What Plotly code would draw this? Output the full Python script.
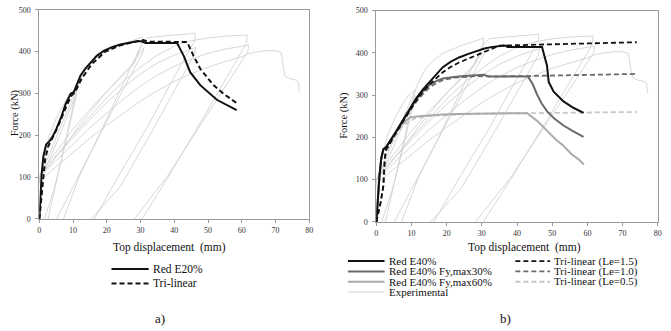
import plotly.graph_objects as go

W, H = 671, 331

# ---------------- data (a) ----------------
a_red_x = [0, 0.3, 0.7, 1.2, 1.7, 2.0, 3.0, 4.0, 5.0, 6.4, 7.8, 9.3, 10.2, 12.2, 13.7, 15.2, 17.0, 19.1, 21.5, 24.0, 26.5, 28.9, 30.3, 31.5, 40.8, 42.8, 44.7, 47.7, 52.6, 55.5, 58.5]
a_red_y = [0, 60, 110, 150, 172, 178, 186, 198, 215, 242, 275, 300, 303, 343, 360, 374, 390, 402, 411, 417, 422, 425, 425, 421, 421, 390, 351, 320, 285, 272, 260]

a_tri_x = [0, 0.8, 1.7, 2.6, 3.6, 5.0, 6.5, 8.0, 9.5, 10.5, 12.5, 15.5, 19.5, 24, 28, 30.8, 32, 43.8, 45.7, 47.7, 51.6, 55, 58.5]
a_tri_y = [0, 70, 142, 173, 188, 212, 240, 270, 295, 302, 335, 370, 400, 415, 423, 428, 424, 423, 390, 359, 320, 297, 277]

# ---------------- data (b) ----------------
b_e40_x = [0, 0.4, 0.9, 1.4, 2.0, 2.9, 4.0, 5.5, 7.5, 9.5, 11.4, 13.2, 15.1, 17.0, 18.9, 21.2, 23.5, 26.0, 28.3, 30.7, 33.0, 35.0, 36.7, 37.3, 47.1, 48.5, 49.0, 50.4, 53.2, 56.0, 58.9]
b_e40_y = [0, 60, 110, 150, 172, 178, 192, 212, 240, 268, 293, 313, 331, 350, 366, 379, 389, 397, 404, 410, 414, 416, 417, 414, 414, 370, 331, 308, 285, 270, 258]

b_f30_x = [0, 0.4, 0.9, 1.4, 2.0, 2.9, 4.0, 5.5, 7.5, 9.5, 11.4, 13.2, 15.1, 17.0, 18.9, 22, 25, 28.3, 30.5, 32, 43.1, 44.5, 45.7, 47, 48.5, 50.5, 53.2, 56, 58.9]
b_f30_y = [0, 60, 110, 150, 172, 178, 192, 212, 238, 265, 290, 308, 324, 333, 339, 343, 345, 347, 348, 344, 344, 325, 301, 280, 262, 245, 228, 214, 201]

b_f60_x = [0, 0.4, 0.9, 1.4, 2.0, 2.9, 4.0, 5.5, 7.0, 8.5, 9.5, 12, 15, 18.9, 23, 28.3, 33, 38, 42.9, 44.3, 45.7, 48.5, 51, 53.2, 55.5, 57.5, 59]
b_f60_y = [0, 60, 110, 150, 172, 178, 192, 212, 228, 240, 247, 250, 252, 254, 255, 256, 257, 257, 257, 248, 239, 216, 195, 180, 160, 148, 136]

b_t15_x = [0, 1.2, 2.0, 2.4, 2.8, 3.5, 5, 7, 9, 11, 13, 15.5, 18.9, 21, 23.5, 26, 28.3, 31, 33, 35, 74]
b_t15_y = [0, 45, 85, 150, 172, 180, 203, 230, 258, 283, 306, 328, 354, 366, 377, 386, 393, 403, 410, 417, 425]

b_t10_x = [0, 1.2, 2.0, 2.4, 2.8, 3.5, 5, 7.5, 9.5, 11.4, 13.2, 15.1, 17, 19, 22, 25, 28.3, 31, 35, 43, 74]
b_t10_y = [0, 45, 85, 150, 172, 180, 203, 238, 262, 285, 302, 318, 328, 336, 341, 343, 345, 344, 344, 345, 350]

b_t05_x = [0, 1.2, 2.0, 2.8, 4, 5.5, 7, 9, 11, 14, 19, 25, 30, 43, 74]
b_t05_y = [0, 45, 85, 160, 185, 205, 222, 236, 245, 250, 253, 255, 256, 257, 260]

# ---------------- experimental (cyclic test, shared) ----------------
exp_x = [0, 0.3, 0.8, 1.5, 3, 5, 7, 9, 11,
         10.8, 8.5, 5.5, 2.5, -1,
         -3, 0, 2, 4, 6, 8, 10, 11,
         10.8, 8, 4.5, 1.5, -2,
         -3, 0, 2, 4, 6, 8, 10, 11, 12.5, 14, 16, 19, 23.5, 27, 30.5,
         30.4, 25, 18, 12, 7.2, 3,
         -3, 0, 4, 8, 12, 16, 20, 24, 28, 31,
         30.8, 25, 18, 11, 5.1, 1,
         -3, 0, 5, 10, 15, 20, 25, 28, 30.5, 32, 35, 40, 46.2,
         46, 40, 32, 24, 16.3, 12,
         -3, 0, 5, 10, 15, 20, 25, 30, 35, 40, 44, 46.3,
         46.1, 40, 32, 24, 15.4, 11,
         -3, 0, 5, 10, 15, 20, 25, 30, 35, 40, 45, 50, 55, 61.6,
         61.4, 55, 47, 38, 30.1, 25,
         -3, 0, 5, 10, 15, 20, 25, 30, 35, 40, 45, 50, 55, 60, 62,
         61.8, 55, 47, 38, 28.2, 24,
         -3, 0, 5, 10, 15, 20, 25, 30, 35, 40, 45, 50, 55, 60, 62,
         63.4, 66, 68, 70.2, 71.7, 72.2, 72.8, 74.1, 76.1, 76.8, 77.1]
exp_y = [0, 60, 110, 150, 200, 240, 272, 298, 312,
         300, 215, 110, 0, -130,
         -60, 95, 125, 160, 200, 240, 280, 300,
         290, 190, 75, 0, -120,
         -40, 100, 135, 175, 215, 255, 292, 310, 340, 362, 381, 399, 415, 425, 435,
         420, 325, 205, 105, 0, -90,
         -80, 100, 140, 180, 225, 265, 305, 340, 375, 410,
         400, 312, 202, 92, 0, -80,
         -60, 105, 160, 215, 262, 305, 345, 370, 420, 433, 436, 439, 444,
         425, 340, 220, 110, 0, -80,
         -80, 100, 150, 195, 238, 278, 315, 347, 373, 392, 403, 410,
         395, 305, 190, 78, 0, -70,
         -70, 100, 150, 200, 245, 290, 330, 363, 392, 413, 426, 433, 437, 440,
         420, 330, 220, 98, 0, -70,
         -80, 100, 140, 180, 218, 253, 287, 318, 344, 365, 382, 396, 406, 413, 416,
         400, 315, 213, 103, 0, -50,
         -90, 90, 125, 160, 193, 224, 254, 282, 307, 329, 347, 363, 376, 388, 395,
         398, 401, 403, 402, 398, 370, 342, 336, 332, 328, 305]

x_ticks = [0, 10, 20, 30, 40, 50, 60, 70, 80]
y_ticks = [0, 100, 200, 300, 400, 500]

# ---------------- styling ----------------
SERIF = '"Liberation Serif", "Times New Roman", Times, serif'
EXP_C = "#d2d2d2"
BLACK = "#111111"
DARK = "#6a6a6a"
LIGHT = "#ababab"
LIGHTD = "#c6c6c6"
DASH = "5px,3px"


def px2x(px):
    return px / W


def py2y(py):
    return 1 - py / H


fig = go.Figure()


def add(x, y, color, width, dash=None, axis=1):
    fig.add_trace(go.Scatter(
        x=x, y=y, mode="lines",
        line=dict(color=color, width=width, dash=dash),
        xaxis="x" if axis == 1 else "x2",
        yaxis="y" if axis == 1 else "y2",
        showlegend=False, hoverinfo="skip"))


# (a)
add(exp_x, exp_y, EXP_C, 0.9, axis=1)
add(a_red_x, a_red_y, BLACK, 2.0, axis=1)
add(a_tri_x, a_tri_y, BLACK, 2.0, DASH, axis=1)

# (b)
add(exp_x, exp_y, EXP_C, 0.9, axis=2)
add(b_t05_x, b_t05_y, LIGHTD, 1.8, DASH, axis=2)
add(b_f60_x, b_f60_y, LIGHT, 2.0, axis=2)
add(b_t10_x, b_t10_y, DARK, 1.8, DASH, axis=2)
add(b_f30_x, b_f30_y, DARK, 2.0, axis=2)
add(b_t15_x, b_t15_y, BLACK, 1.8, DASH, axis=2)
add(b_e40_x, b_e40_y, BLACK, 2.0, axis=2)

axis_common = dict(
    showgrid=False, zeroline=False, showline=True, mirror=True,
    linecolor="#9a9a9a", linewidth=1,
    ticks="outside", ticklen=3, tickcolor="#9a9a9a",
    tickfont=dict(family=SERIF, size=8, color="#333333"),
)

fig.update_layout(
    width=W, height=H,
    margin=dict(l=0, r=0, t=0, b=0),
    paper_bgcolor="white", plot_bgcolor="white",
    showlegend=False,
    font=dict(family=SERIF),
    xaxis=dict(domain=[px2x(37.7), px2x(310)], range=[0, 80], tickvals=x_ticks,
               anchor="y", **axis_common),
    yaxis=dict(domain=[py2y(221), py2y(6)], range=[0, 500], tickvals=y_ticks,
               anchor="x", ticklabelstandoff=3, **axis_common),
    xaxis2=dict(domain=[px2x(377.7), px2x(661.7)], range=[0, 80], tickvals=x_ticks,
                anchor="y2", **axis_common),
    yaxis2=dict(domain=[py2y(224), py2y(6.7)], range=[0, 500], tickvals=y_ticks,
                anchor="x2", ticklabelstandoff=3, **axis_common),
)

ann = []


def text(s, px, py, size, xanchor="center", angle=0):
    ann.append(dict(text=s, x=px2x(px), y=py2y(py), xref="paper", yref="paper",
                    xanchor=xanchor, yanchor="middle", showarrow=False, textangle=angle,
                    borderpad=0,
                    font=dict(family=SERIF, size=size, color="#111111")))


text("Force (kN)", 13.5, 112, 10.5, angle=-90)
text("Force (kN)", 345, 114, 10.5, angle=-90)
text("Top displacement\u00a0 (mm)", 169, 250.5, 11.5)
text("Top displacement\u00a0 (mm)", 527, 250.5, 11.5)
text("a)", 159, 323, 13)
text("b)", 508, 323, 13)

shapes = []


def sample(x0, x1, py, color, width, dash=None):
    shapes.append(dict(type="line", xref="paper", yref="paper",
                       x0=px2x(x0), x1=px2x(x1), y0=py2y(py), y1=py2y(py),
                       line=dict(color=color, width=width, dash=dash)))


# legend (a)
leg_a = [("Red E20%", BLACK, 2.0, None), ("Tri-linear", BLACK, 2.0, DASH)]
for i, (lab, c, w, d) in enumerate(leg_a):
    py = 272.3 + i * 15
    sample(110.5, 148, py, c, w, d)
    text(lab, 151, py, 11.5, xanchor="left")

# legend (b)
leg_b1 = [("Red E40%", BLACK, 2.0, None), ("Red E40% Fy,max30%", DARK, 2.0, None),
          ("Red E40% Fy,max60%", LIGHT, 2.0, None), ("Experimental", EXP_C, 1.0, None)]
leg_b2 = [("Tri-linear (Le=1.5)", BLACK, 1.8, DASH), ("Tri-linear (Le=1.0)", DARK, 1.8, DASH),
          ("Tri-linear (Le=0.5)", LIGHTD, 1.8, DASH)]
for i, (lab, c, w, d) in enumerate(leg_b1):
    py = 264.3 + i * 10.6
    sample(349, 386, py, c, w, d)
    text(lab, 389, py, 11, xanchor="left")
for i, (lab, c, w, d) in enumerate(leg_b2):
    py = 264.3 + i * 10.6
    sample(518, 553, py, c, w, d)
    text(lab, 556, py, 11, xanchor="left")

fig.update_layout(annotations=ann, shapes=shapes)
fig.write_html("out.html")
